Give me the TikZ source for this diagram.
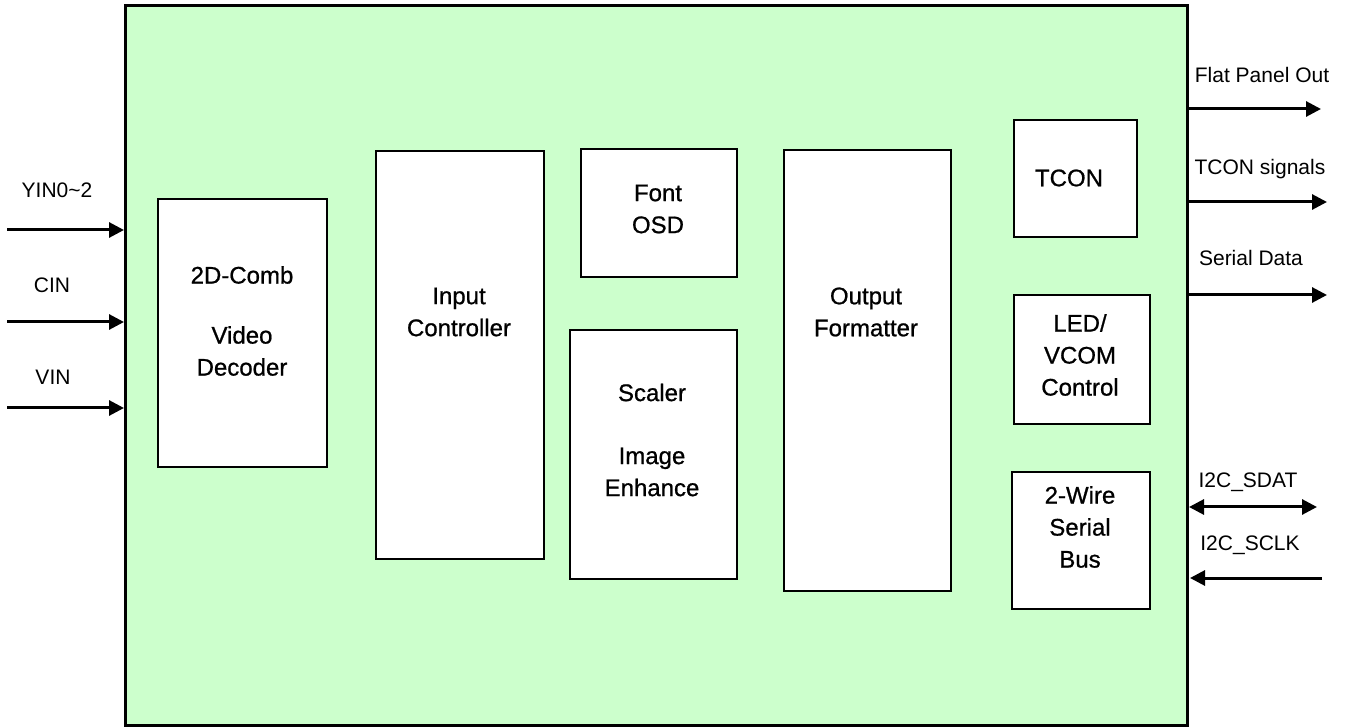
\documentclass[tikz,border=0pt]{standalone}
\usepackage{fontspec}
\setmainfont{Liberation Sans}
\newfontfamily\blkfont[FakeBold=0.8]{Liberation Sans}
\usetikzlibrary{arrows.meta}
\definecolor{chipgreen}{RGB}{204,255,204}
\begin{document}
\begin{tikzpicture}[x=0.5pt,y=-0.5pt,
  blk/.style={draw=black,line width=1pt,fill=white,anchor=north west,inner sep=0pt},
  lbl/.style={align=center,inner sep=0pt,font=\blkfont\fontsize{12}{16}\selectfont},
  sig/.style={inner sep=0pt,font=\fontsize{10.5}{13}\selectfont},
  arr/.style={line width=1.5pt,-{Triangle[length=7.5pt,width=7.5pt]}},
  darr/.style={line width=1.5pt,{Triangle[length=7.5pt,width=7.5pt]}-{Triangle[length=7.5pt,width=7.5pt]}}]
\useasboundingbox (0,0) rectangle (1351,727);
% main chip
\draw[line width=1.5pt,fill=chipgreen] (125,6) rectangle (1187,725);
% blocks
\node[blk,minimum width=169pt*0.5,minimum height=268pt*0.5] (dec) at (157,198) {};
\node[blk,minimum width=168pt*0.5,minimum height=408pt*0.5] (inc) at (375,150) {};
\node[blk,minimum width=156pt*0.5,minimum height=128pt*0.5] (osd) at (580,148) {};
\node[blk,minimum width=167pt*0.5,minimum height=249pt*0.5] (scl) at (569,329) {};
\node[blk,minimum width=167pt*0.5,minimum height=441pt*0.5] (ofm) at (783,149) {};
\node[blk,minimum width=123pt*0.5,minimum height=117pt*0.5] (tcon) at (1013,119) {};
\node[blk,minimum width=136pt*0.5,minimum height=129pt*0.5] (led) at (1013,294) {};
\node[blk,minimum width=138pt*0.5,minimum height=137pt*0.5] (twb) at (1011,471) {};
% block texts
\node[lbl] (tdec) at (242,321) {2D-Comb\\[14pt]Video\\Decoder};
\node[lbl] (tinc) at (459,312) {Input\\Controller};
\node[lbl] (tosd) at (658,209) {Font\\OSD};
\node[lbl] (tscl) at (652,440) {Scaler\\[15.5pt]Image\\Enhance};
\node[lbl] (tofm) at (866,312) {Output\\Formatter};
\node[lbl] (ttcon) at (1069,178) {TCON};
\node[lbl] (tled) at (1080,355) {LED/\\VCOM\\Control};
\node[lbl] (ttwb) at (1080,527) {2-Wire\\Serial\\Bus};
% signal labels
\node[sig] (yin) at (57,190) {YIN0\textasciitilde2};
\node[sig] (cin) at (52,285) {CIN};
\node[sig] (vin) at (53,377) {VIN};
\node[sig] (fpo) at (1262,75) {Flat Panel Out};
\node[sig] (tcs) at (1260,169) {TCON signals};
\node[sig] (sd) at (1251,258) {Serial Data};
\node[sig] (sdat) at (1248,482) {I2C\_SDAT};
\node[sig] (sclk) at (1250,545) {I2C\_SCLK};
% connector endpoints
\coordinate (y0) at (7,230);   \coordinate (y1) at (124,230);
\coordinate (c0) at (7,322);   \coordinate (c1) at (124,322);
\coordinate (v0) at (7,408);   \coordinate (v1) at (124,408);
\coordinate (f0) at (1189,109); \coordinate (f1) at (1321,109);
\coordinate (t0) at (1189,202); \coordinate (t1) at (1327,202);
\coordinate (s0) at (1189,295); \coordinate (s1) at (1327,295);
\coordinate (d0) at (1189,507); \coordinate (d1) at (1317,507);
\coordinate (k0) at (1322,578); \coordinate (k1) at (1190,578);
\draw[arr] (y0) -- (y1);
\draw[arr] (c0) -- (c1);
\draw[arr] (v0) -- (v1);
\draw[arr] (f0) -- (f1);
\draw[arr] (t0) -- (t1);
\draw[arr] (s0) -- (s1);
\draw[darr] (d0) -- (d1);
\draw[arr] (k0) -- (k1);
\end{tikzpicture}
\end{document}
